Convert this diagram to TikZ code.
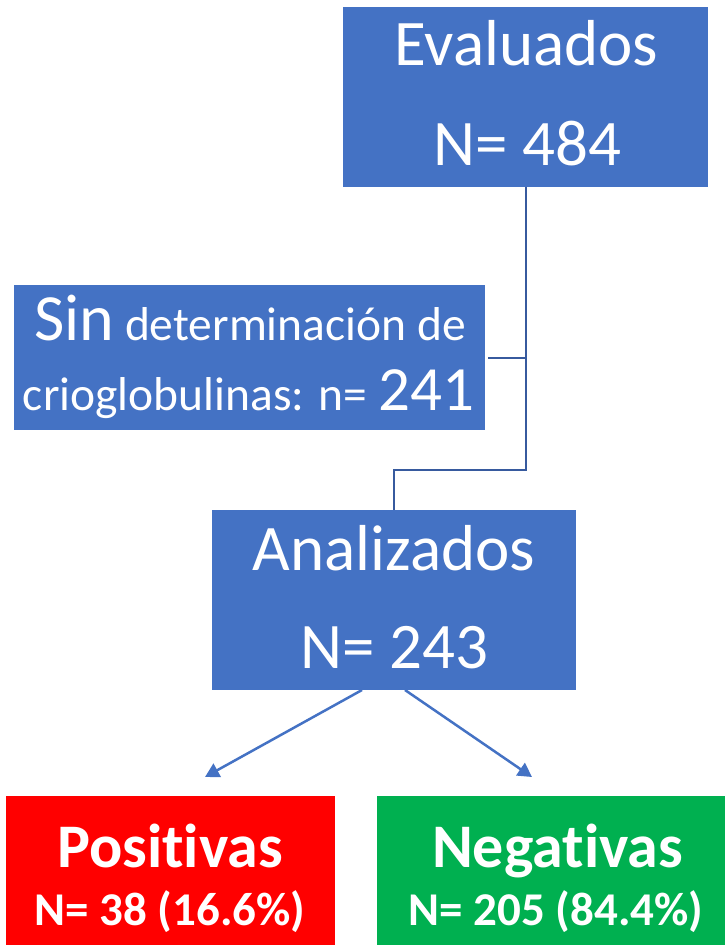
\documentclass[tikz,border=0pt]{standalone}
\usepackage{fontspec}
\setmainfont[Ligatures=NoCommon]{Carlito}
\usetikzlibrary{arrows.meta,calc}
\definecolor{boxblue}{HTML}{4472C4}
\definecolor{elbowblue}{HTML}{375A9E}
\definecolor{boxred}{HTML}{FF0000}
\definecolor{boxgreen}{HTML}{00B050}
\tikzset{
  box/.style={draw=none, inner sep=0pt, outer sep=0pt},
  bluebox/.style={box, fill=boxblue},
  redbox/.style={box, fill=boxred},
  greenbox/.style={box, fill=boxgreen},
  wtxt/.style={text=white, inner sep=0pt, anchor=base},
  big/.style={wtxt, font=\fontsize{65}{65}\selectfont},
  mixed/.style={wtxt, font=\fontsize{47.5}{47.5}\selectfont},
  boldbig/.style={wtxt, font=\fontsize{62}{62}\selectfont\bfseries},
  boldsmall/.style={wtxt, font=\fontsize{47}{47}\selectfont\bfseries},
  elbow/.style={draw=elbowblue, line width=2pt},
  arr/.style={draw=boxblue, line width=2.5pt, -{Triangle[length=14pt,width=15pt]}}
}
\begin{document}
\begin{tikzpicture}[x=1pt,y=-1pt]
\useasboundingbox (0,0) rectangle (725,945);
% boxes
\node[bluebox, minimum width=365pt, minimum height=180pt] (eval) at (525.5,96.5) {};
\node[bluebox, minimum width=471pt, minimum height=145pt] (sin) at (249.5,357.5) {};
\node[bluebox, minimum width=364pt, minimum height=180pt] (anal) at (394,600) {};
\node[redbox, minimum width=329pt, minimum height=149pt] (pos) at (170.5,870.5) {};
\node[greenbox, minimum width=348pt, minimum height=149pt] (neg) at (551,870.5) {};
% texts
\node[big] (evalA) at (526.5,65) {Evaluados};
\node[big] (evalB) at (527,165) {N= 484};
\node[mixed] (sinA) at (250,340) {{\fontsize{66}{66}\selectfont Sin} determinación de};
\node[mixed] (sinB) at (248.5,410) {crioglobulinas: n= {\fontsize{63}{63}\selectfont 241}};
\node[big] (analA) at (394,570) {Analizados};
\node[big] (analB) at (394,668) {N= 243};
\node[boldbig] (posA) at (170,867) {Positivas};
\node[boldsmall] (posB) at (170,925) {N= 38 (16.6\%)};
\node[boldbig] (negA) at (557.5,867) {Negativas};
\node[boldsmall] (negB) at (556,925) {N= 205 (84.4\%)};
% connectors
\coordinate (jn) at (525.5,470);
\draw[elbow] (eval.south) -- (jn) -| (anal.north);
\draw[elbow] ([xshift=3pt]sin.east) -- (sin.east -| eval.south);
\coordinate (posTip) at (205,777);
\coordinate (negTip) at (532,777);
\draw[arr] ([xshift=-32pt]anal.south) -- (posTip);
\draw[arr] ([xshift=11pt]anal.south) -- (negTip);
\end{tikzpicture}
\end{document}
